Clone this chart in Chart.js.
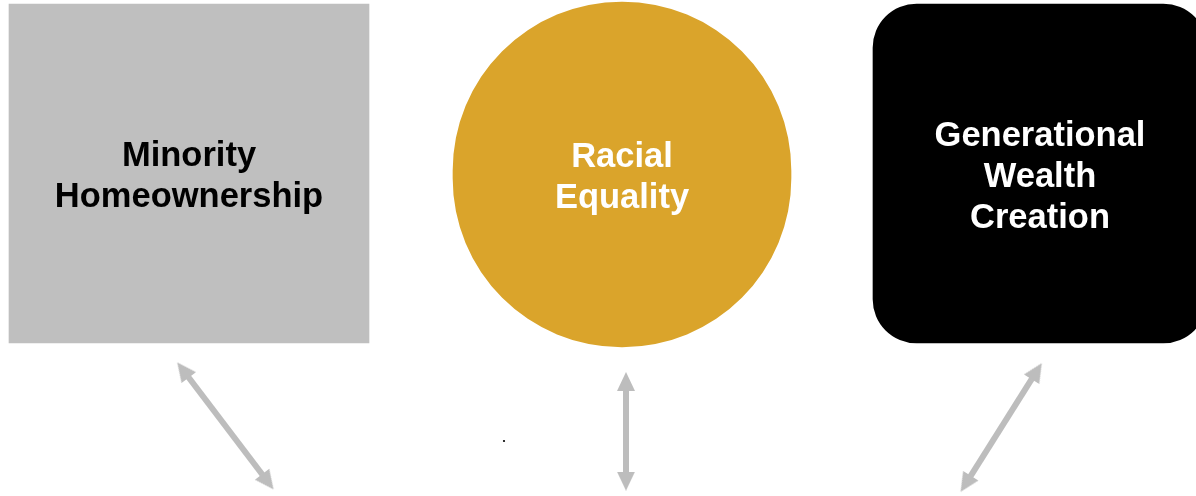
<!DOCTYPE html>
<html>
<head>
<meta charset="utf-8">
<script src="https://cdn.jsdelivr.net/npm/chart.js@4/dist/chart.umd.min.js"></script>
<style>
  html, body { margin: 0; padding: 0; background: #ffffff; }
  #wrap { width: 1196px; height: 496px; }
</style>
</head>
<body>
<div id="wrap"><canvas id="c" width="1196" height="496"></canvas></div>
<script>
// ---- data (diagram units = page pixels) ----
const nodeLabels = [
  ['Minority', 'Homeownership'],
  ['Racial', 'Equality'],
  ['Generational', 'Wealth', 'Creation']
];
const nodeCenterX = [189, 622, 1040];
const nodeTop = [4, 2, 4];
const nodeBottom = [343, 347, 343];

const arrowStart = [[183.0, 370.0], [626, 381.5], [1036.7, 371.2]];
const arrowEnd   = [[267.8, 481.8], [626, 481.2], [965.7, 483.8]];

const strayDot = [[504, 441]];

// ---- styles ----
const nodeColors = ['#BFBFBF', '#DAA42B', '#000000'];
const nodeTextColors = ['#000000', '#FFFFFF', '#FFFFFF'];
const nodeWidths = [360, 338, 334];
const nodeRadii = [0, 170, 44];
const arrowColor = '#BDBDBD';
const arrowShaft = 6;
const headW = 18, headH = 19;

// arrowhead sprite used as Chart.js point style (tip pointing up)
const head = document.createElement('canvas');
head.width = headW; head.height = headH;
(function () {
  const g = head.getContext('2d');
  g.fillStyle = arrowColor;
  g.beginPath();
  g.moveTo(headW / 2, 0);
  g.lineTo(headW, headH);
  g.lineTo(0, headH);
  g.closePath();
  g.fill();
})();

const datasets = [];
nodeLabels.forEach((lab, i) => {
  datasets.push({
    type: 'bar',
    label: lab.join(' '),
    data: [{ x: nodeCenterX[i], y: [nodeTop[i], nodeBottom[i]] }],
    backgroundColor: nodeColors[i],
    borderWidth: 0,
    borderSkipped: false,
    borderRadius: nodeRadii[i],
    barThickness: nodeWidths[i],
    grouped: false,
    order: 2
  });
});
arrowStart.forEach((s, i) => {
  const e = arrowEnd[i];
  datasets.push({
    type: 'line',
    label: 'arrow' + i,
    data: [{ x: s[0], y: s[1] }, { x: e[0], y: e[1] }],
    borderColor: arrowColor,
    borderWidth: arrowShaft,
    borderCapStyle: 'butt',
    pointStyle: head,
    pointRadius: 10,
    pointHoverRadius: 10,
    pointRotation: (ctx) => {
      const d = ctx.dataset.data;
      const p = d[ctx.dataIndex], q = d[1 - ctx.dataIndex];
      return Math.atan2(p.x - q.x, -(p.y - q.y)) * 180 / Math.PI;
    },
    fill: false,
    order: 1
  });
});
datasets.push({
  type: 'scatter',
  label: 'dot',
  data: strayDot.map(p => ({ x: p[0], y: p[1] })),
  pointRadius: 1.1,
  pointBackgroundColor: '#000000',
  pointBorderWidth: 0,
  order: 0
});

const labelPlugin = {
  id: 'nodeLabels',
  afterDatasetsDraw(chart) {
    const ctx = chart.ctx;
    ctx.save();
    ctx.font = 'bold 34.5px Arial, "Liberation Sans", sans-serif';
    ctx.textAlign = 'center';
    ctx.textBaseline = 'alphabetic';
    nodeLabels.forEach((lines, i) => {
      const el = chart.getDatasetMeta(i).data[0];
      const p = el.getProps(['x', 'y', 'base'], true);
      const cy = (p.y + p.base) / 2;
      const lh = 41;
      ctx.fillStyle = nodeTextColors[i];
      lines.forEach((t, j) => {
        const yy = cy + (j - (lines.length - 1) / 2) * lh + 13;
        ctx.fillText(t, p.x, yy);
      });
    });
    ctx.restore();
  }
};

new Chart(document.getElementById('c'), {
  data: { datasets },
  options: {
    responsive: false,
    devicePixelRatio: 1,
    animation: false,
    layout: { padding: 0, autoPadding: false },
    plugins: { legend: { display: false }, tooltip: { enabled: false } },
    scales: {
      x: { type: 'linear', min: 0, max: 1196, offset: false, grace: 0, display: false },
      y: { type: 'linear', min: 0, max: 496, reverse: true, grace: 0, display: false }
    }
  },
  plugins: [labelPlugin]
});
</script>
</body>
</html>
